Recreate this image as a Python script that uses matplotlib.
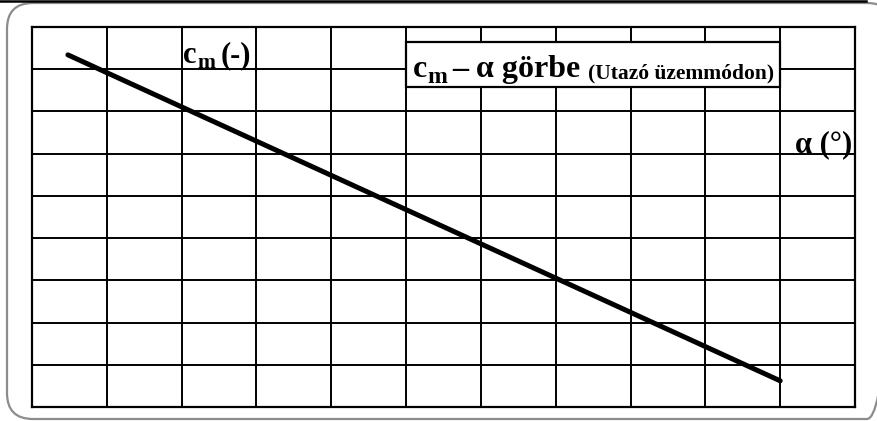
# cm - alpha görbe (utazó üzemmód)

import matplotlib
matplotlib.use("Agg")
import matplotlib.pyplot as plt
from matplotlib.patches import FancyBboxPatch, Rectangle

plt.rcParams["font.family"] = ["Liberation Serif", "DejaVu Serif"]
plt.rcParams["font.weight"] = "bold"

# adatok (rácsegységben)
alpha = [0.48, 10.0]
cm = [8.34, 0.62]
x_cells = list(range(0, 12))
y_cells = list(range(0, 10))

W, H = 877, 421


def main():
    fig = plt.figure(figsize=(W / 100, H / 100), dpi=100)

    # háttér-réteg pixelkoordinátákkal (keret)
    bg = fig.add_axes([0, 0, 1, 1])
    bg.set_xlim(0, W)
    bg.set_ylim(H, 0)
    bg.axis("off")
    bg.add_patch(FancyBboxPatch((7, 3), 886, 416,
                                boxstyle="round,pad=0,rounding_size=26",
                                facecolor="none", edgecolor="#8c8c8c", linewidth=1.6))
    bg.plot([0, 866], [1, 1], color="black", lw=1.8)

    ax = fig.add_axes([32 / W, 1 - 407 / H, 823 / W, 380 / H])
    ax.set_xlim(0, 11)
    ax.set_ylim(0, 9)
    ax.set_xticks(x_cells)
    ax.set_yticks(y_cells)
    ax.tick_params(length=0, labelbottom=False, labelleft=False)
    ax.grid(True, color="black", linewidth=1.4)
    for s in ax.spines.values():
        s.set_linewidth(1.6)

    ax.plot(alpha, cm, color="black", linewidth=3.6, solid_capstyle="round", zorder=3)

    # feliratok réteg (pixelkoordináták)
    ov = fig.add_axes([0, 0, 1, 1])
    ov.set_xlim(0, W)
    ov.set_ylim(H, 0)
    ov.axis("off")

    ov.text(183, 63, "c", fontsize=22, va="baseline")
    ov.text(197, 67.5, "m", fontsize=15.5, va="baseline")
    ov.text(221, 63, "(-)", fontsize=22, va="baseline")

    ov.text(795, 152, "α (°)", fontsize=22, va="baseline")

    ov.add_patch(Rectangle((406, 42), 374, 45, facecolor="white",
                           edgecolor="black", linewidth=1.6))
    ov.text(413, 77, "c", fontsize=23, va="baseline")
    ov.text(427, 83, "m", fontsize=17, va="baseline")
    ov.text(452, 77, "– α görbe", fontsize=23, va="baseline")
    ov.text(588, 78, "(Utazó üzemmódon)", fontsize=15.5, va="baseline")

    fig.savefig("out.png", dpi=100)


if __name__ == "__main__":
    main()
